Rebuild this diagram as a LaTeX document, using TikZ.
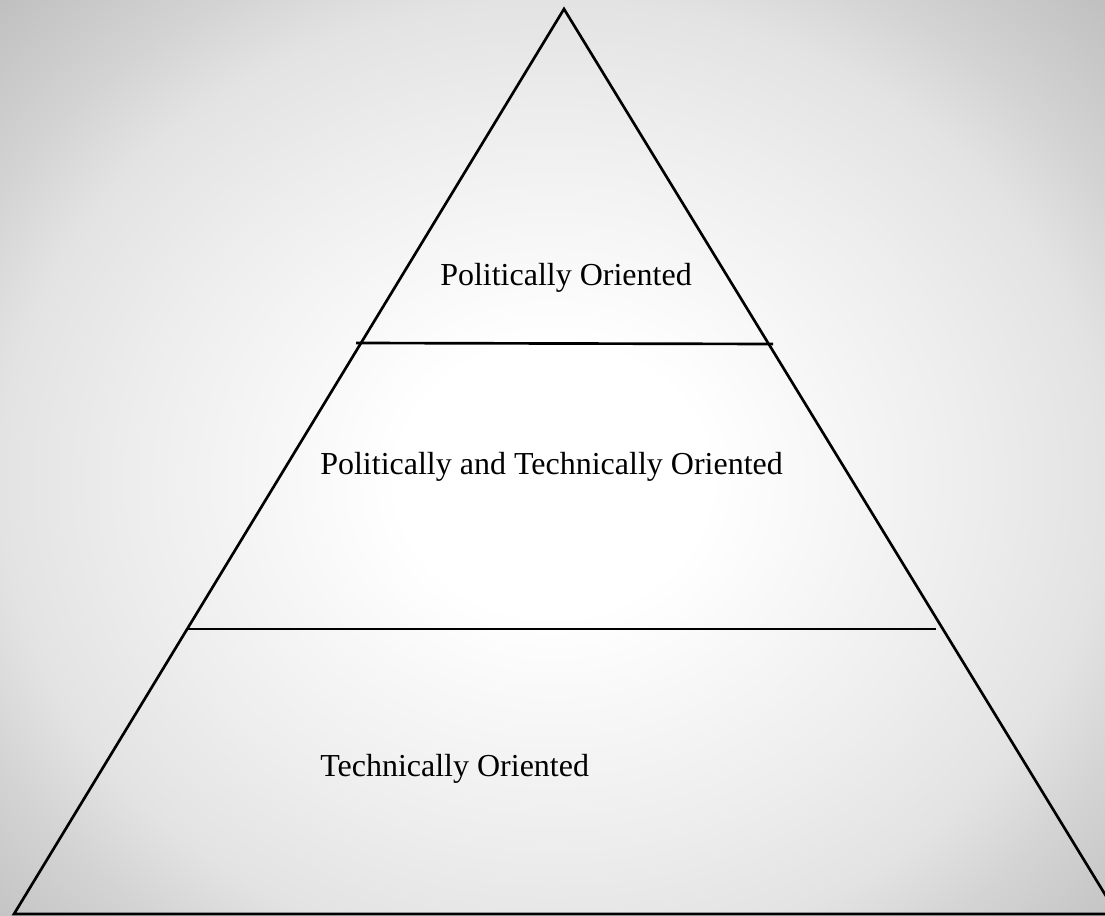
\documentclass[tikz,border=0pt]{standalone}
\usepackage{fontspec}
\setmainfont{Liberation Serif}
\usetikzlibrary{positioning,calc}

\pgfdeclareradialshading{backshade}{\pgfpoint{0bp}{0bp}}{color(0bp)=(white); color(7bp)=(white); color(19bp)=(black!7); color(25bp)=(black!11); color(29bp)=(black!17); color(35.5bp)=(black!25); color(50bp)=(black!30)}

\begin{document}
\begin{tikzpicture}
                    [x=0.75pt,y=-0.75pt,tier/.style={align=left,font=\fontsize{24}{28}\selectfont,inner sep=0pt},
                     edge/.style={line width=2pt,line join=miter}]

                    \useasboundingbox (0,0) rectangle (1105,916);
                    \clip (0,0) rectangle (1105,916);
                    \shade[shading=backshade] (0,0) rectangle (1105,960);

                    % pyramid
                    \coordinate (apex) at (564,9);
                    \coordinate (baseL) at (14,914);
                    \coordinate (baseR) at (1117,914);
                    \draw[edge] (baseL) -- (apex) -- (baseR) -- cycle;

                    % the two cuts
                    \draw[edge] (356,343) -- (773,344);
                    \draw[edge] (186,629) -- (936,629);

                    \node[tier] (pol) at (566,278) {Politically Oriented};
                    \node[tier,anchor=west] (both) at (320,467) {Politically and Technically Oriented};
                    \node[tier,anchor=west] (tech) at (320,769) {Technically Oriented};
                \end{tikzpicture}
\end{document}
